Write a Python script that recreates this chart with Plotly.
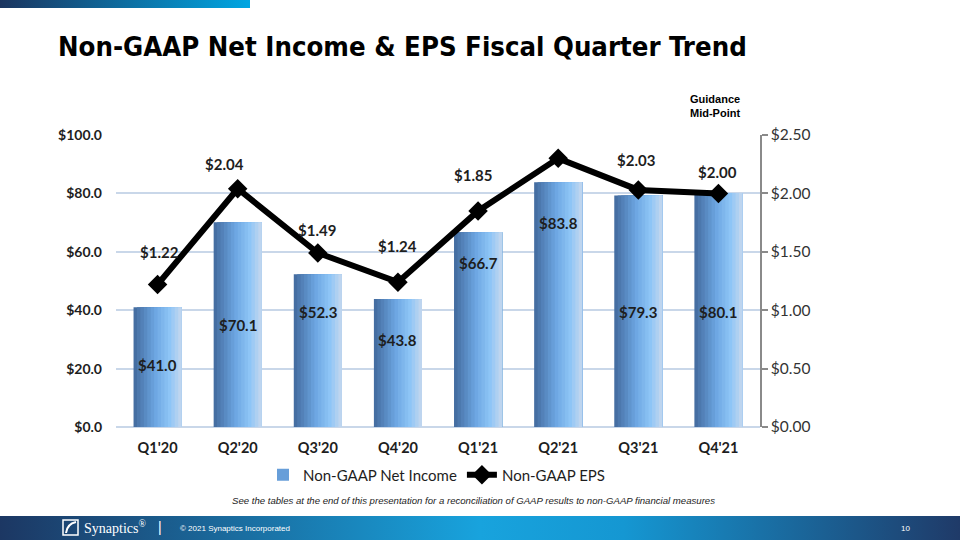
import base64
import plotly.graph_objects as go

quarters = ["Q1'20", "Q2'20", "Q3'20", "Q4'20", "Q1'21", "Q2'21", "Q3'21", "Q4'21"]
net_income = [41.0, 70.1, 52.3, 43.8, 66.7, 83.8, 79.3, 80.1]
eps = [1.22, 2.04, 1.49, 1.24, 1.85, 2.30, 2.03, 2.00]
left_ticks = [0, 20, 40, 60, 80, 100]
left_tick_text = ["$0.0", "$20.0", "$40.0", "$60.0", "$80.0", "$100.0"]
right_ticks = [0, 0.5, 1.0, 1.5, 2.0, 2.5]
right_tick_text = ["$0.00", "$0.50", "$1.00", "$1.50", "$2.00", "$2.50"]

# label placement (layout only)
bar_label_y = [21.2, 34.9, 39.4, 29.8, 56.2, 69.9, 39.4, 39.4]
eps_label_y = [1.50, 2.25, 1.69, 1.55, 2.16, 2.57, 2.29, 2.18]
eps_label_dx = [2, -13, -1, 0, -5, -8, -2, -1]

L, R, T, B = 116, 200, 135, 113
W, H = 960, 540
PW, PH = W - L - R, H - T - B


def px_x(p):
    return (p - L) / PW


def px_y(p):
    return (H - B - p) / PH


def hexrgb(h):
    h = h.lstrip("#")
    return [int(h[i:i + 2], 16) for i in (0, 2, 4)]


def interp(stops, t):
    for (t0, c0), (t1, c1) in zip(stops, stops[1:]):
        if t0 <= t <= t1:
            f = (t - t0) / (t1 - t0) if t1 > t0 else 0
            a, b = hexrgb(c0), hexrgb(c1)
            return "rgb(%d,%d,%d)" % tuple(round(a[i] + (b[i] - a[i]) * f) for i in range(3))
    return stops[-1][1]


stops = [(0, "#42699d"), (0.45, "#6ca6e2"), (0.75, "#8ec5f6"), (1, "#c6d8ee")]

fig = go.Figure()
N = 14
BW = 0.6
for i in range(N):
    w = BW / N
    fig.add_trace(go.Bar(
        x=quarters, y=net_income,
        width=[BW - i * w] * len(quarters),
        offset=[-BW / 2 + i * w] * len(quarters),
        marker=dict(color=interp(stops, (i + 0.5) / N), line=dict(width=0)),
        name="Non-GAAP Net Income",
        showlegend=(i == 5), legendgroup="ni",
        hoverinfo="skip" if i else None,
    ))

fig.add_trace(go.Scatter(
    x=quarters, y=eps, yaxis="y2", mode="lines+markers",
    line=dict(color="black", width=6),
    marker=dict(symbol="diamond", size=15, color="black"),
    name="Non-GAAP EPS",
))

ann = []
lab_font = dict(family="Lato", size=15, color="#1e1e1e")
for q, v, ly in zip(quarters, net_income, bar_label_y):
    ann.append(dict(x=q, y=ly, xref="x", yref="y", text="<b>$%.1f</b>" % v,
                    showarrow=False, font=lab_font))
for q, v, ly, dx in zip(quarters, eps, eps_label_y, eps_label_dx):
    ann.append(dict(x=q, y=ly, xref="x", yref="y2", text="<b>$%.2f</b>" % v,
                    showarrow=False, font=lab_font, xshift=dx))


def pann(x, y, text, font, xanchor="center"):
    ann.append(dict(x=px_x(x), y=px_y(y), xref="paper", yref="paper", xanchor=xanchor,
                    yanchor="middle", text=text, showarrow=False, font=font, align="center"))


pann(715, 106, "<b>Guidance<br>Mid-Point</b>", dict(family="Liberation Sans", size=11, color="black"))
pann(56, 46, "<b>Non-GAAP Net Income & EPS Fiscal Quarter Trend</b>",
     dict(family="DejaVu Sans Condensed", size=27.3, color="black"), "left")
pann(473, 500, "<i>See the tables at the end of this presentation for a reconciliation of GAAP results to non-GAAP financial measures</i>",
     dict(family="Liberation Sans", size=9.6, color="#222"))
pann(82, 527, "Synaptics<sup>®</sup>", dict(family="Liberation Serif", size=14, color="white"), "left")
pann(160, 527, "|", dict(family="Liberation Sans", size=14, color="white"))
pann(178, 528, "© 2021 Synaptics Incorporated", dict(family="Liberation Sans", size=8, color="white"), "left")
pann(905, 528, "10", dict(family="Liberation Sans", size=8, color="white"))


def svg_uri(svg):
    return "data:image/svg+xml;base64," + base64.b64encode(svg.encode()).decode()


top_svg = ('<svg xmlns="http://www.w3.org/2000/svg" width="250" height="8" preserveAspectRatio="none" viewBox="0 0 250 8">'
           '<defs><linearGradient id="g" x1="0" x2="1" y1="0" y2="0">'
           '<stop offset="0" stop-color="#1b355f"/><stop offset="1" stop-color="#00a6e2"/></linearGradient></defs>'
           '<rect width="250" height="8" fill="url(#g)"/></svg>')
foot_svg = ('<svg xmlns="http://www.w3.org/2000/svg" width="960" height="24" preserveAspectRatio="none" viewBox="0 0 960 24">'
            '<defs><linearGradient id="g" x1="0" x2="1" y1="0" y2="0">'
            '<stop offset="0" stop-color="#1c3763"/><stop offset="0.5" stop-color="#18a3dd"/>'
            '<stop offset="0.65" stop-color="#1597d2"/><stop offset="1" stop-color="#1f3a68"/></linearGradient></defs>'
            '<rect width="960" height="24" fill="url(#g)"/></svg>')

images = [
    dict(source=svg_uri(top_svg), xref="paper", yref="paper", x=px_x(0), y=px_y(0),
         sizex=250 / PW, sizey=8 / PH, sizing="stretch", layer="above"),
    dict(source=svg_uri(foot_svg), xref="paper", yref="paper", x=px_x(0), y=px_y(516),
         sizex=W / PW, sizey=24 / PH, sizing="stretch", layer="below"),
]

shapes = [
    dict(type="rect", xref="paper", yref="paper", x0=px_x(63), x1=px_x(78), y0=px_y(535), y1=px_y(520),
         line=dict(color="white", width=1.5), fillcolor="rgba(0,0,0,0)"),
    dict(type="path", xref="paper", yref="paper",
         path="M %f,%f Q %f,%f %f,%f" % (px_x(66), px_y(533), px_x(67), px_y(524), px_x(76), px_y(522)),
         line=dict(color="white", width=2)),
]

fig.update_layout(
    width=W, height=H,
    margin=dict(l=L, r=R, t=T, b=B),
    paper_bgcolor="white", plot_bgcolor="white",
    barmode="overlay", bargap=0.4,
    font=dict(family="Lato", color="#1e1e1e"),
    xaxis=dict(showgrid=False, showline=False, ticks="", ticklabelstandoff=10,
               tickfont=dict(family="Lato", size=14.5, color="#1e1e1e", weight="bold")),
    yaxis=dict(range=[0, 100], tickmode="array", tickvals=left_ticks, ticktext=left_tick_text,
               showgrid=True, gridcolor="#c9d7e9", gridwidth=2,
               zeroline=True, zerolinecolor="#c9d7e9", zerolinewidth=2,
               showline=False, ticks="", ticklabelstandoff=13,
               tickfont=dict(family="Lato", size=14, color="#1e1e1e", weight="bold")),
    yaxis2=dict(range=[0, 2.5], tickmode="array", tickvals=right_ticks, ticktext=right_tick_text,
                overlaying="y", side="right", showgrid=False, zeroline=False,
                showline=True, linecolor="#8a8a8a", linewidth=1.5,
                ticks="outside", ticklen=6, tickcolor="#8a8a8a", tickwidth=1.5,
                tickfont=dict(family="Lato", size=15.5, color="#333")),
    legend=dict(orientation="h", x=px_x(437), y=px_y(475), xanchor="center", yanchor="middle",
                font=dict(family="Lato", size=15, color="#1e1e1e"), itemwidth=30,
                bgcolor="rgba(0,0,0,0)", tracegroupgap=0),
    annotations=ann, images=images, shapes=shapes,
    showlegend=True,
)

fig.write_html("out.html", config={"displayModeBar": False},
               post_script="document.body.style.margin='0';document.body.style.overflow='hidden';")
